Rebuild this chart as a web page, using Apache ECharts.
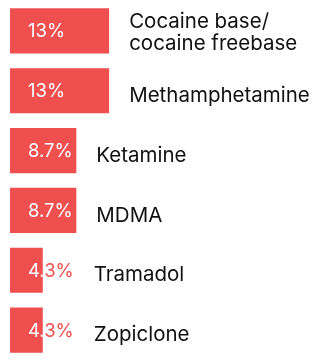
<!DOCTYPE html>
<html>
<head>
<meta charset="utf-8">
<script src="https://cdn.jsdelivr.net/npm/echarts@6/dist/echarts.min.js"></script>
<style>
  html, body { margin: 0; padding: 0; background: #fff; }
  #chart { width: 327px; height: 360px; }
</style>
</head>
<body>
<div id="chart"></div>
<script>
// Share of respondents by substance (%)
const categories = [
  'Cocaine base/\ncocaine freebase',
  'Methamphetamine',
  'Ketamine',
  'MDMA',
  'Tramadol',
  'Zopiclone'
];
const values = [13, 13, 8.7, 8.7, 4.3, 4.3];
const valueLabels = ['13%', '13%', '8.7%', '8.7%', '4.3%', '4.3%'];

const BAR_COLOR = '#f04f4f';
const TEXT_COLOR = '#111111';
const FONT = 'Inter, "Noto Sans", sans-serif';
const VALUE_FONT_SIZE = 18.5;
const CAT_FONT_SIZE = 20.5;

// measure value-label widths so the category name sits past them
const measureCtx = document.createElement('canvas').getContext('2d');
function textWidth(str, size) {
  measureCtx.font = size + 'px ' + FONT;
  return measureCtx.measureText(str).width;
}

const chart = echarts.init(document.getElementById('chart'));

chart.setOption({
  animation: false,
  grid: { left: 10, width: 305, top: 1, height: 365 },
  xAxis: { type: 'value', min: 0, max: 40, show: false },
  yAxis: { type: 'category', data: categories, inverse: true, show: false },
  series: [{
    type: 'custom',
    data: values.map((v, i) => [v, i]),
    encode: { x: 0, y: 1 },
    renderItem: function (params, api) {
      const idx = params.dataIndex;
      const v = api.value(0);
      const end = api.coord([v, api.value(1)]);
      const start = api.coord([0, api.value(1)]);
      const band = api.size([0, 1])[1];
      const h = band * 0.756;
      const x0 = start[0];
      const yc = end[1];
      const barW = end[0] - x0;
      const labelX = x0 + 18;
      const labelText = valueLabels[idx];
      const labelEnd = labelX + textWidth(labelText, VALUE_FONT_SIZE);
      const catX = Math.max(end[0], labelEnd) + 20;
      const catText = categories[idx];
      const catDy = catText.indexOf('\n') >= 0 ? 2 : 5;
      const valueStyle = function (fill) {
        return {
          text: labelText, x: labelX, y: yc + 1,
          fill: fill, font: VALUE_FONT_SIZE + 'px ' + FONT,
          align: 'left', verticalAlign: 'middle'
        };
      };
      return {
        type: 'group',
        children: [
          { type: 'rect', shape: { x: x0, y: yc - h / 2, width: barW, height: h },
            style: { fill: BAR_COLOR } },
          { type: 'text', style: valueStyle(BAR_COLOR) },
          { type: 'group',
            clipPath: { type: 'rect', shape: { x: x0, y: yc - h / 2, width: barW, height: h } },
            children: [{ type: 'text', style: valueStyle('#ffffff') }] },
          { type: 'text', style: {
              text: catText, x: catX, y: yc + catDy,
              fill: TEXT_COLOR, font: CAT_FONT_SIZE + 'px ' + FONT,
              align: 'left', verticalAlign: 'middle', lineHeight: 22
            } }
        ]
      };
    }
  }]
});
</script>
</body>
</html>
